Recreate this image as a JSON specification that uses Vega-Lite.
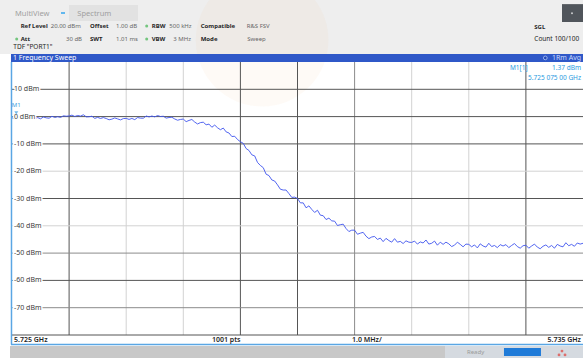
{
  "$schema": "https://vega.github.io/schema/vega-lite/v6.json",
  "width": 571,
  "height": 273,
  "autosize": {"type": "none"},
  "padding": {"left": 12, "top": 62, "right": 0, "bottom": 23},
  "background": "#ffffff",
  "config": {"view": {"stroke": null}, "text": {"font": "Noto Sans", "baseline": "middle"}},
  "datasets": {
    "trace": [
      {"f":5725.00,"v":-0.4},{"f":5725.05,"v":-0.85},{"f":5725.10,"v":-0.49},{"f":5725.15,"v":-0.19},{"f":5725.20,"v":-0.67},
      {"f":5725.25,"v":-0.97},{"f":5725.30,"v":-0.5},{"f":5725.35,"v":-0.26},{"f":5725.40,"v":-0.68},{"f":5725.45,"v":-0.38},
      {"f":5725.50,"v":-0.81},{"f":5725.55,"v":-0.15},{"f":5725.60,"v":-0.46},{"f":5725.65,"v":-0.59},{"f":5725.70,"v":0.12},
      {"f":5725.75,"v":-0.32},{"f":5725.80,"v":-0.04},{"f":5725.85,"v":-0.3},{"f":5725.90,"v":0.28},{"f":5725.95,"v":0.14},
      {"f":5726.00,"v":0.24},{"f":5726.05,"v":0.53},{"f":5726.10,"v":0.05},{"f":5726.15,"v":0.41},{"f":5726.20,"v":0.18},
      {"f":5726.25,"v":0.67},{"f":5726.30,"v":-0.09},{"f":5726.35,"v":-0.06},{"f":5726.40,"v":0.15},{"f":5726.45,"v":-0.66},
      {"f":5726.50,"v":-0.28},{"f":5726.55,"v":-0.68},{"f":5726.60,"v":-0.36},{"f":5726.65,"v":-0.7},{"f":5726.70,"v":-1.17},
      {"f":5726.75,"v":-0.92},{"f":5726.80,"v":-0.49},{"f":5726.85,"v":-0.84},{"f":5726.90,"v":-1.2},{"f":5726.95,"v":-0.72},
      {"f":5727.00,"v":-0.66},{"f":5727.05,"v":-1.03},{"f":5727.10,"v":-0.68},{"f":5727.15,"v":-1.11},{"f":5727.20,"v":-0.35},
      {"f":5727.25,"v":-0.56},{"f":5727.30,"v":-0.59},{"f":5727.35,"v":0.22},{"f":5727.40,"v":-0.12},{"f":5727.45,"v":0.21},
      {"f":5727.50,"v":-0.1},{"f":5727.55,"v":0.38},{"f":5727.60,"v":0.04},{"f":5727.65,"v":0.13},{"f":5727.70,"v":-0.55},
      {"f":5727.75,"v":-0.34},{"f":5727.80,"v":-0.24},{"f":5727.85,"v":-0.87},{"f":5727.90,"v":-1.32},{"f":5727.95,"v":-1.05},
      {"f":5728.00,"v":-0.9},{"f":5728.05,"v":-1.85},{"f":5728.10,"v":-1.4},{"f":5728.15,"v":-1.05},{"f":5728.20,"v":-2.0},
      {"f":5728.25,"v":-2.7},{"f":5728.30,"v":-2.2},{"f":5728.35,"v":-2.05},{"f":5728.40,"v":-3.0},{"f":5728.45,"v":-2.75},
      {"f":5728.50,"v":-3.9},{"f":5728.55,"v":-3.1},{"f":5728.60,"v":-4.1},{"f":5728.65,"v":-4.8},{"f":5728.70,"v":-4.2},
      {"f":5728.75,"v":-5.6},{"f":5728.80,"v":-6.0},{"f":5728.85,"v":-7.3},{"f":5728.90,"v":-7.2},{"f":5728.95,"v":-8.4},
      {"f":5729.00,"v":-9.2},{"f":5729.05,"v":-9.8},{"f":5729.10,"v":-11.7},{"f":5729.15,"v":-12.4},{"f":5729.20,"v":-14.0},
      {"f":5729.25,"v":-14.4},{"f":5729.30,"v":-16.8},{"f":5729.35,"v":-17.9},{"f":5729.40,"v":-18.7},{"f":5729.45,"v":-21.1},
      {"f":5729.50,"v":-21.6},{"f":5729.55,"v":-23.2},{"f":5729.60,"v":-23.6},{"f":5729.65,"v":-25.0},{"f":5729.70,"v":-26.6},
      {"f":5729.75,"v":-26.9},{"f":5729.80,"v":-26.9},{"f":5729.85,"v":-28.2},{"f":5729.90,"v":-29.6},{"f":5729.95,"v":-29.5},
      {"f":5730.00,"v":-30.0},{"f":5730.05,"v":-31.6},{"f":5730.10,"v":-31.6},{"f":5730.15,"v":-33.4},{"f":5730.20,"v":-32.7},
      {"f":5730.25,"v":-34.0},{"f":5730.30,"v":-35.1},{"f":5730.35,"v":-34.3},{"f":5730.40,"v":-36.1},{"f":5730.45,"v":-36.3},
      {"f":5730.50,"v":-37.7},{"f":5730.55,"v":-37.2},{"f":5730.60,"v":-38.2},{"f":5730.65,"v":-38.3},{"f":5730.70,"v":-39.9},
      {"f":5730.75,"v":-39.6},{"f":5730.80,"v":-39.4},{"f":5730.85,"v":-41.0},{"f":5730.90,"v":-42.1},{"f":5730.95,"v":-41.6},
      {"f":5731.00,"v":-41.6},{"f":5731.05,"v":-43.1},{"f":5731.10,"v":-42.7},{"f":5731.15,"v":-42.4},{"f":5731.20,"v":-43.8},
      {"f":5731.25,"v":-44.7},{"f":5731.30,"v":-44.1},{"f":5731.35,"v":-43.9},{"f":5731.40,"v":-45.0},{"f":5731.45,"v":-44.5},
      {"f":5731.50,"v":-45.8},{"f":5731.55,"v":-44.6},{"f":5731.60,"v":-45.4},{"f":5731.65,"v":-46.0},{"f":5731.70,"v":-44.7},
      {"f":5731.75,"v":-46.0},{"f":5731.80,"v":-45.7},{"f":5731.85,"v":-46.5},{"f":5731.90,"v":-45.5},{"f":5731.95,"v":-46.0},
      {"f":5732.00,"v":-46.1},{"f":5732.05,"v":-45.6},{"f":5732.10,"v":-46.7},{"f":5732.15,"v":-45.9},{"f":5732.20,"v":-46.3},
      {"f":5732.25,"v":-45.2},{"f":5732.30,"v":-46.7},{"f":5732.35,"v":-46.4},{"f":5732.40,"v":-45.6},{"f":5732.45,"v":-47.1},
      {"f":5732.50,"v":-46.0},{"f":5732.55,"v":-46.8},{"f":5732.60,"v":-46.0},{"f":5732.65,"v":-46.6},{"f":5732.70,"v":-47.6},
      {"f":5732.75,"v":-47.1},{"f":5732.80,"v":-46.0},{"f":5732.85,"v":-46.8},{"f":5732.90,"v":-47.7},{"f":5732.95,"v":-46.7},
      {"f":5733.00,"v":-46.8},{"f":5733.05,"v":-47.7},{"f":5733.10,"v":-47.0},{"f":5733.15,"v":-48.1},{"f":5733.20,"v":-46.6},
      {"f":5733.25,"v":-47.4},{"f":5733.30,"v":-47.8},{"f":5733.35,"v":-46.4},{"f":5733.40,"v":-47.6},{"f":5733.45,"v":-47.2},
      {"f":5733.50,"v":-48.0},{"f":5733.55,"v":-46.9},{"f":5733.60,"v":-47.4},{"f":5733.65,"v":-46.9},{"f":5733.70,"v":-48.0},
      {"f":5733.75,"v":-47.2},{"f":5733.80,"v":-46.5},{"f":5733.85,"v":-47.6},{"f":5733.90,"v":-48.2},{"f":5733.95,"v":-47.3},
      {"f":5734.00,"v":-47.1},{"f":5734.05,"v":-48.2},{"f":5734.10,"v":-47.4},{"f":5734.15,"v":-46.7},{"f":5734.20,"v":-47.8},
      {"f":5734.25,"v":-48.4},{"f":5734.30,"v":-47.5},{"f":5734.35,"v":-47.0},{"f":5734.40,"v":-47.9},{"f":5734.45,"v":-47.2},
      {"f":5734.50,"v":-48.2},{"f":5734.55,"v":-46.8},{"f":5734.60,"v":-47.4},{"f":5734.65,"v":-47.7},{"f":5734.70,"v":-46.2},
      {"f":5734.75,"v":-47.3},{"f":5734.80,"v":-46.8},{"f":5734.85,"v":-47.5},{"f":5734.90,"v":-46.3},{"f":5734.95,"v":-46.7},
      {"f":5735.00,"v":-46.4}
    ],
    "boxes": [
      {"part":"header","f":5724.79,"f2":5735.0,"v":42.7,"v2":22.93},
      {"part":"tab","f":5725.998,"f2":5727.207,"v":40.88,"v2":35.02},
      {"part":"icon","f":5725.858,"f2":5725.928,"v":38.3,"v2":37.6},
      {"part":"button","f":5734.632,"f2":5735.0,"v":41.2,"v2":34.65},
      {"part":"titlebar","f":5724.982,"f2":5735.0,"v":22.93,"v2":20.0},
      {"part":"status","f":5724.965,"f2":5735.0,"v":-84.03,"v2":-88.42},
      {"part":"statusright","f":5732.583,"f2":5735.0,"v":-84.03,"v2":-88.42},
      {"part":"progress","f":5733.616,"f2":5734.264,"v":-84.76,"v2":-87.69}
    ],
    "watermark": [{"f":5729.38,"v":28.0}],
    "borders": [
      {"f":5724.991,"f2":5724.991,"v":20.0,"v2":-83.48},
      {"f":5724.982,"f2":5735.0,"v":-83.48,"v2":-83.48}
    ],
    "vgrid": [{"f":5726},{"f":5727},{"f":5728},{"f":5729},{"f":5730},{"f":5731},{"f":5732},{"f":5733},{"f":5734}],
    "hgrid": [{"v":10},{"v":0},{"v":-10},{"v":-20},{"v":-30},{"v":-40},{"v":-50},{"v":-60},{"v":-70},{"v":-80}],
    "ylabels": [
      {"v":10,"label":"10 dBm"},{"v":0,"label":"0 dBm"},{"v":-10,"label":"-10 dBm"},{"v":-20,"label":"-20 dBm"},
      {"v":-30,"label":"-30 dBm"},{"v":-40,"label":"-40 dBm"},{"v":-50,"label":"-50 dBm"},{"v":-60,"label":"-60 dBm"},
      {"v":-70,"label":"-70 dBm"}
    ],
    "keys": [
      {"f":5725.152,"v":33.19,"t":"Ref Level"},{"f":5726.366,"v":33.19,"t":"Offset"},{"f":5727.447,"v":33.19,"t":"RBW"},
      {"f":5728.305,"v":33.19,"t":"Compatible"},
      {"f":5725.152,"v":28.42,"t":"Att"},{"f":5726.366,"v":28.42,"t":"SWT"},{"f":5727.447,"v":28.42,"t":"VBW"},
      {"f":5728.305,"v":28.42,"t":"Mode"},
      {"f":5734.147,"v":33.0,"t":"SGL"}
    ],
    "vals": [
      {"f":5725.678,"v":33.19,"t":"20.00 dBm"},{"f":5726.821,"v":33.19,"t":"1.00 dB"},{"f":5727.755,"v":33.19,"t":"500 kHz"},
      {"f":5729.110,"v":33.19,"t":"R&S FSV"},
      {"f":5726.821,"v":28.42,"t":"1.01 ms"},{"f":5727.825,"v":28.42,"t":"3 MHz"},{"f":5729.121,"v":28.42,"t":"Sweep"}
    ],
    "valsright": [{"f":5726.226,"v":28.42,"t":"30 dB"}],
    "dark": [
      {"f":5725.023,"v":25.6,"t":"TDF \"PORT1\""},
      {"f":5734.147,"v":28.6,"t":"Count 100/100"}
    ],
    "tabs": [{"f":5725.053,"v":37.58,"t":"MultiView"},{"f":5726.144,"v":37.58,"t":"Spectrum"}],
    "greendots": [{"f":5727.359,"v":33.19},{"f":5725.082,"v":28.42},{"f":5727.359,"v":28.42}],
    "bartitle": [{"f":5725.018,"v":21.5,"t":"1 Frequency Sweep"}],
    "barright": [{"f":5734.965,"v":21.5,"t":"1Rm Avg"}],
    "barcircle": [{"f":5734.34,"v":21.5}],
    "readout": [{"f":5733.721,"v":17.62,"t":"M1[1]"}],
    "readoutright": [{"f":5734.965,"v":17.62,"t":"1.37 dBm"},{"f":5734.965,"v":13.96,"t":"5.725 075 00 GHz"}],
    "marker": [{"f":5725.075,"v":1.37,"t":"M1"}],
    "bottom": [{"f":5725.035,"v":-81.87,"t":"5.725 GHz"},{"f":5728.503,"v":-81.87,"t":"1001 pts"},{"f":5730.954,"v":-81.87,"t":"1.0 MHz/"}],
    "bottomright": [{"f":5734.965,"v":-81.87,"t":"5.735 GHz"}],
    "status": [{"f":5732.968,"v":-86.4,"t":"Ready"}],
    "reddots": [{"f":5734.632,"v":-85.9},{"f":5734.58,"v":-87.3},{"f":5734.685,"v":-87.3}],
    "buttondot": [{"f":5734.807,"v":37.9}]
  },
  "layer": [
    {
      "data": {"name": "boxes"},
      "transform": [{"filter": "indexof(['header','tab','icon','button'], datum.part) >= 0"}],
      "mark": {"type": "rect"},
      "encoding": {
        "x": {"field": "f", "type": "quantitative", "scale": {"domain": [5725, 5735], "nice": false, "zero": false}, "axis": null},
        "x2": {"field": "f2"},
        "y": {"field": "v", "type": "quantitative", "scale": {"domain": [-80, 20], "nice": false, "zero": false}, "axis": null},
        "y2": {"field": "v2"},
        "color": {"field": "part", "type": "nominal", "legend": null,
          "scale": {"domain": ["header","tab","icon","button","titlebar","status","statusright","progress"],
                    "range": ["#eeeeee","#e2e2e2","#5ab4ee","#50555b","#2f58c8","#c8c8c8","#d5dae0","#1f7bd8"]}}
      }
    },
    {
      "data": {"name": "watermark"},
      "mark": {"type": "point", "shape": "circle", "filled": true, "size": 17600, "color": "#f4c08e", "opacity": 0.08},
      "encoding": {
        "x": {"field": "f", "type": "quantitative", "scale": {"domain": [5725, 5735], "nice": false, "zero": false}, "axis": null},
        "y": {"field": "v", "type": "quantitative", "scale": {"domain": [-80, 20], "nice": false, "zero": false}, "axis": null}
      }
    },
    {
      "data": {"name": "boxes"},
      "transform": [{"filter": "indexof(['header','tab','icon','button'], datum.part) < 0"}],
      "mark": {"type": "rect"},
      "encoding": {
        "x": {"field": "f", "type": "quantitative", "scale": {"domain": [5725, 5735], "nice": false, "zero": false}, "axis": null},
        "x2": {"field": "f2"},
        "y": {"field": "v", "type": "quantitative", "scale": {"domain": [-80, 20], "nice": false, "zero": false}, "axis": null},
        "y2": {"field": "v2"},
        "color": {"field": "part", "type": "nominal", "legend": null,
          "scale": {"domain": ["header","tab","icon","button","titlebar","status","statusright","progress"],
                    "range": ["#eeeeee","#e2e2e2","#5ab4ee","#50555b","#2f58c8","#c8c8c8","#d5dae0","#1f7bd8"]}}
      }
    },
    {
      "data": {"name": "vgrid"},
      "mark": {"type": "rule", "strokeWidth": 1},
      "encoding": {
        "x": {"field": "f", "type": "quantitative", "scale": {"domain": [5725, 5735], "nice": false, "zero": false}, "axis": null},
        "color": {"condition": [{"test": "indexof([5726,5729,5730,5734], datum.f) >= 0", "value": "#555555"}, {"test": "datum.f == 5731", "value": "#8c8c8c"}], "value": "#d2d2d2"}
      }
    },
    {
      "data": {"name": "hgrid"},
      "mark": {"type": "rule", "strokeWidth": 1},
      "encoding": {
        "y": {"field": "v", "type": "quantitative", "scale": {"domain": [-80, 20], "nice": false, "zero": false}, "axis": null},
        "color": {"condition": [{"test": "indexof([10,0,-10,-30,-60,-80], datum.v) >= 0", "value": "#555555"}, {"test": "indexof([-50,-70], datum.v) >= 0", "value": "#8c8c8c"}], "value": "#d2d2d2"}
      }
    },
    {
      "data": {"name": "borders"},
      "mark": {"type": "rule", "strokeWidth": 1.5, "color": "#5aa6e4"},
      "encoding": {
        "x": {"field": "f", "type": "quantitative", "scale": {"domain": [5725, 5735], "nice": false, "zero": false}, "axis": null},
        "x2": {"field": "f2"},
        "y": {"field": "v", "type": "quantitative", "scale": {"domain": [-80, 20], "nice": false, "zero": false}, "axis": null},
        "y2": {"field": "v2"}
      }
    },
    {
      "data": {"name": "trace"},
      "mark": {"type": "line", "strokeWidth": 0.9, "color": "#3f55ee", "interpolate": "linear"},
      "encoding": {
        "x": {"field": "f", "type": "quantitative", "scale": {"domain": [5725, 5735], "nice": false, "zero": false}, "axis": null},
        "y": {"field": "v", "type": "quantitative", "scale": {"domain": [-80, 20], "nice": false, "zero": false}, "axis": null}
      }
    },
    {
      "data": {"name": "ylabels"},
      "mark": {"type": "text", "align": "left", "dx": 2, "fontSize": 7, "stroke": "#ffffff", "strokeWidth": 3, "fill": "#ffffff"},
      "encoding": {
        "x": {"datum": 5725, "type": "quantitative", "scale": {"domain": [5725, 5735], "nice": false, "zero": false}, "axis": null},
        "y": {"field": "v", "type": "quantitative", "scale": {"domain": [-80, 20], "nice": false, "zero": false}, "axis": null},
        "text": {"field": "label"}
      }
    },
    {
      "data": {"name": "ylabels"},
      "mark": {"type": "text", "align": "left", "dx": 2, "fontSize": 7, "color": "#3c3c3c"},
      "encoding": {
        "x": {"datum": 5725, "type": "quantitative", "scale": {"domain": [5725, 5735], "nice": false, "zero": false}, "axis": null},
        "y": {"field": "v", "type": "quantitative", "scale": {"domain": [-80, 20], "nice": false, "zero": false}, "axis": null},
        "text": {"field": "label"}
      }
    },
    {
      "data": {"name": "marker"},
      "mark": {"type": "point", "shape": "triangle-down", "size": 16, "filled": true, "color": "#3a9de0"},
      "encoding": {
        "x": {"field": "f", "type": "quantitative", "scale": {"domain": [5725, 5735], "nice": false, "zero": false}, "axis": null},
        "y": {"field": "v", "type": "quantitative", "scale": {"domain": [-80, 20], "nice": false, "zero": false}, "axis": null}
      }
    },
    {
      "data": {"name": "marker"},
      "mark": {"type": "text", "align": "center", "dy": -8, "fontSize": 6, "color": "#3a9de0"},
      "encoding": {
        "x": {"field": "f", "type": "quantitative", "scale": {"domain": [5725, 5735], "nice": false, "zero": false}, "axis": null},
        "y": {"field": "v", "type": "quantitative", "scale": {"domain": [-80, 20], "nice": false, "zero": false}, "axis": null},
        "text": {"field": "t"}
      }
    },
    {
      "data": {"name": "keys"},
      "mark": {"type": "text", "align": "left", "fontSize": 6, "fontWeight": "bold", "color": "#262626"},
      "encoding": {
        "x": {"field": "f", "type": "quantitative", "scale": {"domain": [5725, 5735], "nice": false, "zero": false}, "axis": null},
        "y": {"field": "v", "type": "quantitative", "scale": {"domain": [-80, 20], "nice": false, "zero": false}, "axis": null},
        "text": {"field": "t"}
      }
    },
    {
      "data": {"name": "vals"},
      "mark": {"type": "text", "align": "left", "fontSize": 6, "color": "#666666"},
      "encoding": {
        "x": {"field": "f", "type": "quantitative", "scale": {"domain": [5725, 5735], "nice": false, "zero": false}, "axis": null},
        "y": {"field": "v", "type": "quantitative", "scale": {"domain": [-80, 20], "nice": false, "zero": false}, "axis": null},
        "text": {"field": "t"}
      }
    },
    {
      "data": {"name": "valsright"},
      "mark": {"type": "text", "align": "right", "fontSize": 6, "color": "#666666"},
      "encoding": {
        "x": {"field": "f", "type": "quantitative", "scale": {"domain": [5725, 5735], "nice": false, "zero": false}, "axis": null},
        "y": {"field": "v", "type": "quantitative", "scale": {"domain": [-80, 20], "nice": false, "zero": false}, "axis": null},
        "text": {"field": "t"}
      }
    },
    {
      "data": {"name": "dark"},
      "mark": {"type": "text", "align": "left", "fontSize": 6.5, "color": "#262626"},
      "encoding": {
        "x": {"field": "f", "type": "quantitative", "scale": {"domain": [5725, 5735], "nice": false, "zero": false}, "axis": null},
        "y": {"field": "v", "type": "quantitative", "scale": {"domain": [-80, 20], "nice": false, "zero": false}, "axis": null},
        "text": {"field": "t"}
      }
    },
    {
      "data": {"name": "tabs"},
      "mark": {"type": "text", "align": "left", "fontSize": 7.5, "color": "#a0a0a0"},
      "encoding": {
        "x": {"field": "f", "type": "quantitative", "scale": {"domain": [5725, 5735], "nice": false, "zero": false}, "axis": null},
        "y": {"field": "v", "type": "quantitative", "scale": {"domain": [-80, 20], "nice": false, "zero": false}, "axis": null},
        "text": {"field": "t"}
      }
    },
    {
      "data": {"name": "greendots"},
      "mark": {"type": "point", "shape": "circle", "size": 9, "filled": true, "color": "#3fb34f"},
      "encoding": {
        "x": {"field": "f", "type": "quantitative", "scale": {"domain": [5725, 5735], "nice": false, "zero": false}, "axis": null},
        "y": {"field": "v", "type": "quantitative", "scale": {"domain": [-80, 20], "nice": false, "zero": false}, "axis": null}
      }
    },
    {
      "data": {"name": "bartitle"},
      "mark": {"type": "text", "align": "left", "fontSize": 7, "color": "#ffffff"},
      "encoding": {
        "x": {"field": "f", "type": "quantitative", "scale": {"domain": [5725, 5735], "nice": false, "zero": false}, "axis": null},
        "y": {"field": "v", "type": "quantitative", "scale": {"domain": [-80, 20], "nice": false, "zero": false}, "axis": null},
        "text": {"field": "t"}
      }
    },
    {
      "data": {"name": "barright"},
      "mark": {"type": "text", "align": "right", "fontSize": 7, "color": "#c8dafc"},
      "encoding": {
        "x": {"field": "f", "type": "quantitative", "scale": {"domain": [5725, 5735], "nice": false, "zero": false}, "axis": null},
        "y": {"field": "v", "type": "quantitative", "scale": {"domain": [-80, 20], "nice": false, "zero": false}, "axis": null},
        "text": {"field": "t"}
      }
    },
    {
      "data": {"name": "barcircle"},
      "mark": {"type": "point", "shape": "circle", "size": 14, "filled": true, "color": "#1c3fae", "stroke": "#c8dafc", "strokeWidth": 1},
      "encoding": {
        "x": {"field": "f", "type": "quantitative", "scale": {"domain": [5725, 5735], "nice": false, "zero": false}, "axis": null},
        "y": {"field": "v", "type": "quantitative", "scale": {"domain": [-80, 20], "nice": false, "zero": false}, "axis": null}
      }
    },
    {
      "data": {"name": "readout"},
      "mark": {"type": "text", "align": "left", "fontSize": 6.5, "color": "#2a9be0"},
      "encoding": {
        "x": {"field": "f", "type": "quantitative", "scale": {"domain": [5725, 5735], "nice": false, "zero": false}, "axis": null},
        "y": {"field": "v", "type": "quantitative", "scale": {"domain": [-80, 20], "nice": false, "zero": false}, "axis": null},
        "text": {"field": "t"}
      }
    },
    {
      "data": {"name": "readoutright"},
      "mark": {"type": "text", "align": "right", "fontSize": 6.5, "color": "#2a9be0"},
      "encoding": {
        "x": {"field": "f", "type": "quantitative", "scale": {"domain": [5725, 5735], "nice": false, "zero": false}, "axis": null},
        "y": {"field": "v", "type": "quantitative", "scale": {"domain": [-80, 20], "nice": false, "zero": false}, "axis": null},
        "text": {"field": "t"}
      }
    },
    {
      "data": {"name": "bottom"},
      "mark": {"type": "text", "align": "left", "fontSize": 7, "fontWeight": 600, "color": "#1e1e1e"},
      "encoding": {
        "x": {"field": "f", "type": "quantitative", "scale": {"domain": [5725, 5735], "nice": false, "zero": false}, "axis": null},
        "y": {"field": "v", "type": "quantitative", "scale": {"domain": [-80, 20], "nice": false, "zero": false}, "axis": null},
        "text": {"field": "t"}
      }
    },
    {
      "data": {"name": "bottomright"},
      "mark": {"type": "text", "align": "right", "fontSize": 7, "fontWeight": 600, "color": "#1e1e1e"},
      "encoding": {
        "x": {"field": "f", "type": "quantitative", "scale": {"domain": [5725, 5735], "nice": false, "zero": false}, "axis": null},
        "y": {"field": "v", "type": "quantitative", "scale": {"domain": [-80, 20], "nice": false, "zero": false}, "axis": null},
        "text": {"field": "t"}
      }
    },
    {
      "data": {"name": "status"},
      "mark": {"type": "text", "align": "left", "fontSize": 6, "color": "#9a9a9a"},
      "encoding": {
        "x": {"field": "f", "type": "quantitative", "scale": {"domain": [5725, 5735], "nice": false, "zero": false}, "axis": null},
        "y": {"field": "v", "type": "quantitative", "scale": {"domain": [-80, 20], "nice": false, "zero": false}, "axis": null},
        "text": {"field": "t"}
      }
    },
    {
      "data": {"name": "reddots"},
      "mark": {"type": "point", "shape": "circle", "size": 8, "filled": true, "color": "#e0403a"},
      "encoding": {
        "x": {"field": "f", "type": "quantitative", "scale": {"domain": [5725, 5735], "nice": false, "zero": false}, "axis": null},
        "y": {"field": "v", "type": "quantitative", "scale": {"domain": [-80, 20], "nice": false, "zero": false}, "axis": null}
      }
    },
    {
      "data": {"name": "buttondot"},
      "mark": {"type": "point", "shape": "circle", "size": 4, "filled": true, "color": "#ffffff"},
      "encoding": {
        "x": {"field": "f", "type": "quantitative", "scale": {"domain": [5725, 5735], "nice": false, "zero": false}, "axis": null},
        "y": {"field": "v", "type": "quantitative", "scale": {"domain": [-80, 20], "nice": false, "zero": false}, "axis": null}
      }
    }
  ]
}
